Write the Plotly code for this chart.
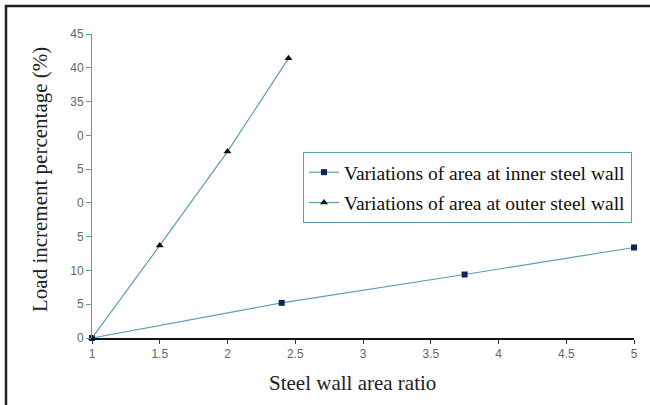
import plotly.graph_objects as go

# Data
inner_x = [1, 2.4, 3.75, 5]
inner_y = [0, 5.2, 9.4, 13.4]
outer_x = [1, 1.5, 2, 2.45]
outer_y = [0, 13.7, 27.6, 41.4]

y_tickvals = [0, 5, 10, 15, 20, 25, 30, 35, 40, 45]
y_ticktext = ["0", "5", "10", "5", "0", "5", "0", "35", "40", "45"]
x_tickvals = [1, 1.5, 2, 2.5, 3, 3.5, 4, 4.5, 5]
x_ticktext = ["1", "1.5", "2", "2.5", "3", "3.5", "4", "4.5", "5"]

line_col = "#5b9db5"
serif = "Liberation Serif, Times New Roman, serif"
sans = "Liberation Sans, Arial, sans-serif"

W, H = 650, 405
L, R, T, B = 92, 16, 34, 67
pw, ph = W - L - R, H - T - B


def px_x(p):
    return (p - L) / pw


def px_y(p):
    return (H - B - p) / ph


fig = go.Figure()
fig.add_trace(go.Scatter(
    x=inner_x, y=inner_y, mode="lines+markers",
    name="Variations of area at inner steel wall", legendgroup="a",
    line=dict(color=line_col, width=1.2),
    marker=dict(symbol="square", size=6, color="#14205a"),
    cliponaxis=False,
))
fig.add_trace(go.Scatter(
    x=outer_x, y=outer_y, mode="lines+markers",
    name="Variations of area at outer steel wall", legendgroup="b",
    line=dict(color=line_col, width=1.2),
    marker=dict(symbol="triangle-up", size=7, color="#111111"),
    cliponaxis=False,
))

fig.update_layout(
    width=W, height=H,
    margin=dict(l=L, r=R, t=T, b=B),
    paper_bgcolor="white", plot_bgcolor="white",
    showlegend=True,
    legend=dict(
        x=px_x(303), y=px_y(152), xanchor="left", yanchor="top",
        bordercolor=line_col, borderwidth=1, bgcolor="white",
        font=dict(family=serif, size=19.5, color="#111"),
        itemwidth=30, tracegroupgap=2,
    ),
    xaxis=dict(
        range=[1, 5], tickvals=x_tickvals, ticktext=x_ticktext,
        showgrid=False, zeroline=False,
        showline=True, linecolor="#111", linewidth=1.5,
        ticks="outside", ticklen=4, tickcolor="#333",
        tickfont=dict(family=sans, size=12, color="#666"),
    ),
    yaxis=dict(
        range=[0, 45], tickvals=y_tickvals, ticktext=y_ticktext,
        showgrid=False, zeroline=False,
        showline=True, linecolor=line_col, linewidth=1,
        ticks="outside", ticklen=5, tickcolor=line_col,
        tickfont=dict(family=sans, size=12, color="#666"),
    ),
)

# axis titles as annotations for exact placement
fig.add_annotation(text="Steel wall area ratio", xref="paper", yref="paper",
                   x=px_x(352), y=px_y(383), showarrow=False,
                   xanchor="center", yanchor="middle",
                   font=dict(family=serif, size=21, color="#222"))
fig.add_annotation(text="Load increment percentage (%)", xref="paper", yref="paper",
                   x=px_x(40), y=px_y(180), showarrow=False, textangle=-90,
                   xanchor="center", yanchor="middle",
                   font=dict(family=serif, size=21, color="#222"))

# outer frame (left and top edges visible in the reference)
fig.add_shape(type="line", xref="paper", yref="paper",
              x0=px_x(5), x1=px_x(W + 5), y0=px_y(6), y1=px_y(6),
              line=dict(color="#222", width=2.5))
fig.add_shape(type="line", xref="paper", yref="paper",
              x0=px_x(6), x1=px_x(6), y0=px_y(5), y1=px_y(H + 5),
              line=dict(color="#222", width=2.5))

fig.write_html("out.html", config={"displayModeBar": False},
               post_script="document.body.style.margin='0px';")
